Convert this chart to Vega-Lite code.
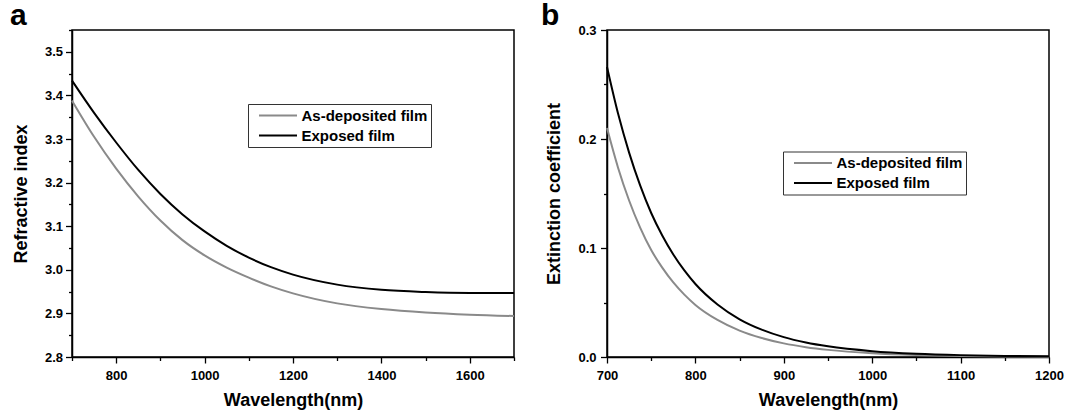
{
  "$schema": "https://vega.github.io/schema/vega-lite/v6.json",
  "padding": {"left": 9, "top": 0, "right": 5, "bottom": 0},
  "spacing": 21,
  "datasets": {
    "n": [
      {"wavelength": 700, "film": "As-deposited film", "value": 3.388},
      {"wavelength": 750, "film": "As-deposited film", "value": 3.305},
      {"wavelength": 800, "film": "As-deposited film", "value": 3.232},
      {"wavelength": 850, "film": "As-deposited film", "value": 3.168},
      {"wavelength": 900, "film": "As-deposited film", "value": 3.113},
      {"wavelength": 950, "film": "As-deposited film", "value": 3.068},
      {"wavelength": 1000, "film": "As-deposited film", "value": 3.033},
      {"wavelength": 1050, "film": "As-deposited film", "value": 3.005},
      {"wavelength": 1100, "film": "As-deposited film", "value": 2.982},
      {"wavelength": 1150, "film": "As-deposited film", "value": 2.962},
      {"wavelength": 1200, "film": "As-deposited film", "value": 2.946},
      {"wavelength": 1300, "film": "As-deposited film", "value": 2.923},
      {"wavelength": 1400, "film": "As-deposited film", "value": 2.910},
      {"wavelength": 1500, "film": "As-deposited film", "value": 2.902},
      {"wavelength": 1600, "film": "As-deposited film", "value": 2.897},
      {"wavelength": 1700, "film": "As-deposited film", "value": 2.894},
      {"wavelength": 700, "film": "Exposed film", "value": 3.434},
      {"wavelength": 750, "film": "Exposed film", "value": 3.360},
      {"wavelength": 800, "film": "Exposed film", "value": 3.292},
      {"wavelength": 850, "film": "Exposed film", "value": 3.229},
      {"wavelength": 900, "film": "Exposed film", "value": 3.174},
      {"wavelength": 950, "film": "Exposed film", "value": 3.127},
      {"wavelength": 1000, "film": "Exposed film", "value": 3.088},
      {"wavelength": 1050, "film": "Exposed film", "value": 3.055},
      {"wavelength": 1100, "film": "Exposed film", "value": 3.028},
      {"wavelength": 1150, "film": "Exposed film", "value": 3.006},
      {"wavelength": 1200, "film": "Exposed film", "value": 2.989},
      {"wavelength": 1300, "film": "Exposed film", "value": 2.966},
      {"wavelength": 1400, "film": "Exposed film", "value": 2.954},
      {"wavelength": 1500, "film": "Exposed film", "value": 2.949},
      {"wavelength": 1600, "film": "Exposed film", "value": 2.947},
      {"wavelength": 1700, "film": "Exposed film", "value": 2.947}
    ],
    "k": [
      {"wavelength": 700, "film": "As-deposited film", "value": 0.210},
      {"wavelength": 712.5, "film": "As-deposited film", "value": 0.1737},
      {"wavelength": 725, "film": "As-deposited film", "value": 0.1436},
      {"wavelength": 737.5, "film": "As-deposited film", "value": 0.1187},
      {"wavelength": 750, "film": "As-deposited film", "value": 0.0981},
      {"wavelength": 762.5, "film": "As-deposited film", "value": 0.0820},
      {"wavelength": 775, "film": "As-deposited film", "value": 0.0684},
      {"wavelength": 787.5, "film": "As-deposited film", "value": 0.0572},
      {"wavelength": 800, "film": "As-deposited film", "value": 0.0478},
      {"wavelength": 825, "film": "As-deposited film", "value": 0.0340},
      {"wavelength": 850, "film": "As-deposited film", "value": 0.0242},
      {"wavelength": 875, "film": "As-deposited film", "value": 0.0174},
      {"wavelength": 900, "film": "As-deposited film", "value": 0.0125},
      {"wavelength": 925, "film": "As-deposited film", "value": 0.00905},
      {"wavelength": 950, "film": "As-deposited film", "value": 0.00654},
      {"wavelength": 1000, "film": "As-deposited film", "value": 0.00343},
      {"wavelength": 1050, "film": "As-deposited film", "value": 0.00181},
      {"wavelength": 1100, "film": "As-deposited film", "value": 0.00096},
      {"wavelength": 1150, "film": "As-deposited film", "value": 0.00051},
      {"wavelength": 1200, "film": "As-deposited film", "value": 0.00027},
      {"wavelength": 700, "film": "Exposed film", "value": 0.266},
      {"wavelength": 712.5, "film": "Exposed film", "value": 0.2233},
      {"wavelength": 725, "film": "Exposed film", "value": 0.1875},
      {"wavelength": 737.5, "film": "Exposed film", "value": 0.1574},
      {"wavelength": 750, "film": "Exposed film", "value": 0.1321},
      {"wavelength": 762.5, "film": "Exposed film", "value": 0.1114},
      {"wavelength": 775, "film": "Exposed film", "value": 0.0940},
      {"wavelength": 787.5, "film": "Exposed film", "value": 0.0794},
      {"wavelength": 800, "film": "Exposed film", "value": 0.0670},
      {"wavelength": 825, "film": "Exposed film", "value": 0.0482},
      {"wavelength": 850, "film": "Exposed film", "value": 0.0346},
      {"wavelength": 875, "film": "Exposed film", "value": 0.0251},
      {"wavelength": 900, "film": "Exposed film", "value": 0.0182},
      {"wavelength": 925, "film": "Exposed film", "value": 0.0133},
      {"wavelength": 950, "film": "Exposed film", "value": 0.00976},
      {"wavelength": 1000, "film": "Exposed film", "value": 0.00536},
      {"wavelength": 1050, "film": "Exposed film", "value": 0.00301},
      {"wavelength": 1100, "film": "Exposed film", "value": 0.00172},
      {"wavelength": 1150, "film": "Exposed film", "value": 0.00100},
      {"wavelength": 1200, "film": "Exposed film", "value": 0.00059}
    ]
  },
  "hconcat": [
    {
      "width": 442,
      "height": 327,
      "data": {"name": "n"},
      "title": {"text": "a", "anchor": "start", "frame": "group", "fontSize": 30, "fontWeight": "bold", "font": "Liberation Sans", "color": "black", "baseline": "alphabetic", "offset": -31, "dx": -62},
      "mark": {"type": "line", "interpolate": "monotone", "strokeWidth": 2},
      "encoding": {
        "x": {"field": "wavelength", "type": "quantitative",
          "scale": {"domain": [700, 1700], "nice": false, "zero": false},
          "axis": {"title": "Wavelength(nm)", "values": [700, 800, 900, 1000, 1100, 1200, 1300, 1400, 1500, 1600, 1700], "format": "d",
            "labelExpr": "datum.value % 200 == 0 ? datum.label : ''",
            "tickSize": {"condition": {"test": "datum.value % 200 == 0", "value": 6}, "value": 3.5}}},
        "y": {"field": "value", "type": "quantitative",
          "scale": {"domain": [2.8, 3.55], "nice": false, "zero": false},
          "axis": {"title": "Refractive index", "labelPadding": 3, "titlePadding": 13.6, "values": [2.8, 2.85, 2.9, 2.95, 3.0, 3.05, 3.1, 3.15, 3.2, 3.25, 3.3, 3.35, 3.4, 3.45, 3.5, 3.55], "format": ".1f",
            "labelExpr": "abs(datum.value*10 - round(datum.value*10)) < 0.001 && datum.value < 3.52 ? datum.label : ''",
            "tickSize": {"condition": {"test": "abs(datum.value*10 - round(datum.value*10)) < 0.001", "value": 6.5}, "value": 3.5}}},
        "color": {"field": "film", "type": "nominal",
          "scale": {"domain": ["As-deposited film", "Exposed film"], "range": ["#8a8a8a", "#000000"]},
          "legend": {"orient": "none", "legendX": 176, "legendY": 74}}
      }
    },
    {
      "width": 442,
      "height": 327,
      "data": {"name": "k"},
      "title": {"text": "b", "anchor": "start", "frame": "group", "fontSize": 30, "fontWeight": "bold", "font": "Liberation Sans", "color": "black", "baseline": "alphabetic", "offset": -31, "dx": -66},
      "mark": {"type": "line", "interpolate": "monotone", "strokeWidth": 2},
      "encoding": {
        "x": {"field": "wavelength", "type": "quantitative",
          "scale": {"domain": [700, 1200], "nice": false, "zero": false},
          "axis": {"title": "Wavelength(nm)", "values": [700, 750, 800, 850, 900, 950, 1000, 1050, 1100, 1150, 1200], "format": "d",
            "labelExpr": "datum.value % 100 == 0 ? datum.label : ''",
            "tickSize": {"condition": {"test": "datum.value % 100 == 0", "value": 6}, "value": 3.5}}},
        "y": {"field": "value", "type": "quantitative",
          "scale": {"domain": [0, 0.3], "nice": false},
          "axis": {"title": "Extinction coefficient", "labelPadding": 4.5, "titlePadding": 14, "values": [0, 0.05, 0.1, 0.15, 0.2, 0.25, 0.3], "format": ".1f",
            "labelExpr": "abs(datum.value*10 - round(datum.value*10)) < 0.001 ? datum.label : ''",
            "tickSize": {"condition": {"test": "abs(datum.value*10 - round(datum.value*10)) < 0.001", "value": 6.5}, "value": 3.5}}},
        "color": {"field": "film", "type": "nominal",
          "scale": {"domain": ["As-deposited film", "Exposed film"], "range": ["#8a8a8a", "#000000"]},
          "legend": {"orient": "none", "legendX": 176, "legendY": 121.5}}
      }
    }
  ],
  "resolve": {"scale": {"color": "independent"}, "legend": {"color": "independent"}},
  "config": {
    "view": {"stroke": "black", "strokeWidth": 1.5},
    "axis": {
      "grid": false,
      "labelFont": "Liberation Sans", "labelFontSize": 13, "labelFontWeight": "bold", "labelColor": "black",
      "labelFlush": false, "labelOverlap": false,
      "titleFont": "Liberation Sans", "titleFontSize": 18, "titleFontWeight": "bold", "titleColor": "black",
      "domainColor": "black", "domainWidth": 1.5, "tickColor": "black", "tickWidth": 1.3
    },
    "axisX": {"labelPadding": 6.5, "titlePadding": 9},
    "legend": {
      "title": null,
      "strokeColor": "#333333", "fillColor": "white", "padding": 3.5,
      "labelFont": "Liberation Sans", "labelFontSize": 15, "labelFontWeight": "bold", "labelColor": "black",
      "symbolType": "M-8.5,0M0,0H38", "symbolSize": 4, "symbolStrokeWidth": 2, "labelOffset": 35, "rowPadding": 4, "clipHeight": 16
    }
  }
}
